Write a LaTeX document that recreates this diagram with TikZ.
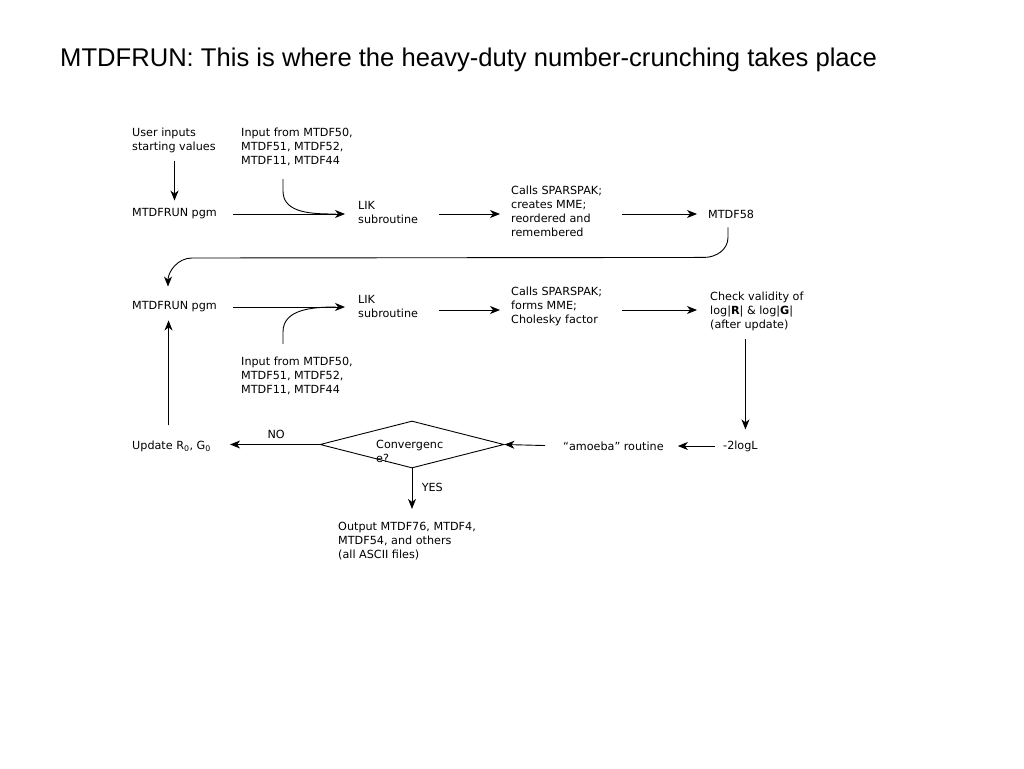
\documentclass[tikz,border=0pt]{standalone}
\usepackage{fontspec}
\setmainfont{DejaVu Sans}
\newfontfamily\titlefont{Liberation Sans}
\usetikzlibrary{arrows.meta,shapes.geometric}

\begin{document}
\begin{tikzpicture}[x=1pt,y=-1pt,
    box/.style={anchor=west, align=left, inner sep=0pt, font=\fontsize{11.2}{14}\selectfont},
    arr/.style={line width=0.9pt, -{Stealth[length=10pt,width=8pt,inset=3pt]}},
    line/.style={line width=0.9pt}]

    % page frame
    \useasboundingbox (0,0) rectangle (1024,768);

    % title
    \node[anchor=west, inner sep=0pt, font=\titlefont\fontsize{25.6}{30}\selectfont] (title) at (60,60)
        {MTDFRUN: This is where the heavy-duty number-crunching takes place};

    % first pass (set up)
    \node[box] (user) at (132,140) {User inputs\\starting values};
    \node[box] (inA) at (241,147) {Input from MTDF50,\\MTDF51, MTDF52,\\MTDF11, MTDF44};
    \node[box] (pgmA) at (132,214) {MTDFRUN pgm};
    \node[box] (likA) at (358,212.5) {LIK\\subroutine};
    \node[box] (callA) at (511,211.5) {Calls SPARSPAK;\\creates MME;\\reordered and\\remembered};
    \node[box] (fA) at (708,214) {MTDF58};

    % second pass (iterations)
    \node[box] (pgmB) at (132,307) {MTDFRUN pgm};
    \node[box] (likB) at (358,306.5) {LIK\\subroutine};
    \node[box] (callB) at (511,306) {Calls SPARSPAK;\\forms MME;\\Cholesky factor};
    \node[box] (check) at (710,311.5) {Check validity of\\log|\textbf{R}| \& log|\textbf{G}|\\(after update)};
    \node[box] (inB) at (241,376) {Input from MTDF50,\\MTDF51, MTDF52,\\MTDF11, MTDF44};

    % convergence loop
    \node[box] (logl) at (723,446) {-2logL};
    \node[box] (amoeba) at (563,446) {“amoeba” routine};
    \node[draw, line width=0.9pt, shape=diamond, aspect=3.9, inner sep=0pt,
          minimum width=184pt, minimum height=47pt] (conv) at (412,444.5) {};
    \node[box, anchor=north west] (convtxt) at (376,440) {Convergenc\\e?};
    \node[box] (update) at (132,446) {Update R\textsubscript{0}, G\textsubscript{0}};
    \node[box] (output) at (338,541) {Output MTDF76, MTDF4,\\MTDF54, and others\\(all ASCII files)};

    % arrows, first row
    \draw[arr, shorten <=8pt, shorten >=8pt] (user.south -| pgmA.north) -- (pgmA.north);
    \draw[arr, shorten <=16pt, shorten >=13pt] (pgmA.east) -- (pgmA.east -| likA.west);
    \draw[line] ([xshift=42pt,yshift=-13pt]inA.south west) -- ++(0,12)
        to[out=-90, in=180] ([xshift=-22pt]pgmA.east -| likA.west);
    \draw[arr, shorten <=21pt, shorten >=11pt] (likA.east |- fA.west) -- (fA.west -| callA.west);
    \draw[arr, shorten <=20pt, shorten >=11pt] (callA.east |- fA.west) -- (fA.west);

    % arrow back to second row
    \draw[arr] ([xshift=20pt,yshift=-9pt]fA.south west) -- ++(0,10)
        to[out=-90, in=0] ++(-24,20) -- (192,258) to[out=180, in=90] ([xshift=36pt,yshift=15pt]pgmB.north west);

    % arrows, second row
    \draw[arr, shorten <=16pt, shorten >=13pt] (pgmB.east) -- (pgmB.east -| likB.west);
    \draw[line] ([xshift=42pt,yshift=13pt]inB.north west) -- ++(0,-12)
        to[out=90, in=180] ([xshift=-22pt]pgmB.east -| likB.west);
    \draw[arr, shorten <=21pt, shorten >=11pt] ([yshift=-3pt]likB.east |- pgmB.east) -- ([yshift=-3pt]pgmB.east -| callB.west);
    \draw[arr, shorten <=20pt, shorten >=13pt] ([yshift=-3pt]callB.east |- pgmB.east) -- ([yshift=-3pt]pgmB.east -| check.west);

    % arrows, convergence loop
    \draw[arr, shorten <=8pt, shorten >=11pt] ([xshift=5pt]logl.north |- check.south) -- ([xshift=5pt]logl.north);
    \draw[arr, shorten <=8pt, shorten >=14pt] (logl.west) -- (logl.west -| amoeba.east);
    \draw[arr, shorten <=18pt] (amoeba.west) -- (conv.east);
    \draw[arr, shorten >=19pt] (conv.west) -- node[pos=0.4, above=2pt, font=\fontsize{11.2}{14}\selectfont] (no) {NO} (conv.west -| update.east);
    \draw[arr, shorten >=13pt] (conv.south) -- node[pos=0.35, right=6pt, font=\fontsize{11.2}{14}\selectfont] (yes) {YES} (conv.south |- output.north);
    \draw[arr, shorten <=15pt, shorten >=8pt] ([xshift=-3pt]update.north) -- ([xshift=-3pt]update.north |- pgmB.south);

\end{tikzpicture}
\end{document}
